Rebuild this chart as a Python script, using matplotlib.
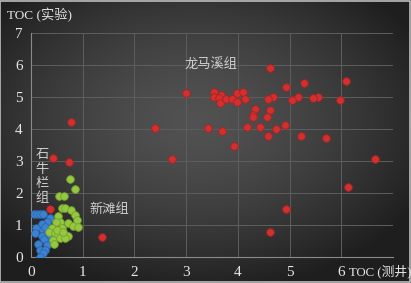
import numpy as np
import matplotlib
matplotlib.use("Agg")
import matplotlib.pyplot as plt

# ─── Datos ─────────────────────────────────────────────────────────
# 龙马溪组 (rojo)
rojo_x = [0.78, 0.42, 0.74, 0.36, 1.38, 2.39, 2.73, 3.00, 3.42, 3.69, 3.93,
          4.62, 4.94, 6.13, 6.66, 4.63, 6.10, 5.28, 4.93, 5.97, 5.55, 5.46,
          5.16, 5.05, 4.69, 4.58, 4.62, 4.34, 4.29, 4.30, 4.56, 4.17, 4.43,
          4.74, 4.91, 4.59, 5.22, 5.70, 3.54, 3.67, 3.53, 3.64, 3.65, 3.77,
          3.89, 3.98, 4.10, 3.98, 4.14]
rojo_y = [4.24, 3.10, 2.98, 1.52, 0.64, 4.05, 3.07, 5.14, 4.05, 3.93, 3.46,
          0.79, 1.51, 2.21, 3.07, 5.90, 5.52, 5.43, 5.32, 4.92, 4.99, 4.97,
          4.99, 4.91, 4.99, 4.95, 4.59, 4.64, 4.43, 4.38, 4.38, 4.07, 4.07,
          4.00, 4.13, 3.79, 3.79, 3.71, 5.17, 5.08, 4.99, 4.96, 4.81, 4.94,
          4.94, 5.14, 5.17, 4.86, 4.94]

# 新滩组 (verde)
verde_x = [0.76, 0.86, 0.55, 0.63, 0.60, 0.66, 0.78, 0.85, 0.89, 0.53, 0.56,
           0.49, 0.72, 0.81, 0.91, 0.40, 0.60, 0.34, 0.47, 0.53, 0.66, 0.72,
           0.43, 0.56, 0.66, 0.45, 0.50, 0.62]
verde_y = [2.44, 2.14, 1.92, 1.92, 1.55, 1.55, 1.48, 1.32, 1.17, 1.29, 1.11,
           1.11, 1.06, 0.98, 0.96, 0.91, 0.91, 0.80, 0.75, 0.70, 0.70, 0.65,
           0.54, 0.59, 0.59, 0.41, 0.85, 0.80]

# 石牛栏组 (azul)
azul_x = [0.05, 0.11, 0.17, 0.24, 0.36, 0.30, 0.21, 0.10, 0.24, 0.08, 0.30,
          0.21, 0.34, 0.25, 0.14, 0.30, 0.17, 0.27, 0.23, 0.17, 0.36, 0.27]
azul_y = [1.34, 1.34, 1.34, 1.34, 1.22, 1.11, 1.04, 0.91, 0.85, 0.75, 0.75,
          0.65, 0.54, 0.56, 0.42, 0.39, 0.23, 0.23, 0.13, 0.02, 0.70, 0.96]

xticks = [0, 1, 2, 3, 4, 5, 6]
yticks = [0, 1, 2, 3, 4, 5, 6, 7]

FUENTE = ["Liberation Serif", "Noto Sans CJK SC", "DejaVu Sans"]
plt.rcParams["font.family"] = FUENTE
TXT = "#e6e6e6"
ETQ = "#cfcfcf"

fig = plt.figure(figsize=(4.11, 2.83), dpi=100)

# Fondo con degradado radial
fondo = fig.add_axes([0, 0, 1, 1], zorder=0)
gx, gy = np.meshgrid(np.linspace(-1, 1, 411), np.linspace(-1, 1, 283))
r = np.sqrt(((gx + 0.05) / 1.1) ** 2 + ((gy + 0.15) / 1.1) ** 2)
g = np.clip(0.32 - 0.17 * r ** 1.5, 0.12, 1)
img = np.dstack([g, g, g])
fondo.imshow(img, aspect="auto", extent=[0, 1, 0, 1], origin="upper")
fondo.set_axis_off()
# borde claro alrededor
fondo.add_patch(plt.Rectangle((0.001, 0.002), 0.997, 0.995, fill=False,
                              edgecolor="#bdbdbd", linewidth=1.2,
                              transform=fondo.transAxes))

ax = fig.add_axes([0.0754, 0.0908, 0.8806, 0.7922], zorder=1)
ax.set_facecolor("none")

kw = dict(s=30, linewidths=0.6, zorder=3)
ax.scatter(azul_x, azul_y, color="#3b82d2", edgecolor="#2d66a8", **kw)
ax.scatter(verde_x, verde_y, color="#94c83f", edgecolor="#76a230", **kw)
ax.scatter(rojo_x, rojo_y, color="#d2302f", edgecolor="#a52424", **kw)

ax.set_xlim(0, 7)
ax.set_ylim(0, 7)
ax.set_xticks(range(0, 8))
ax.set_xticklabels([str(t) for t in xticks] + [""])
ax.set_yticks(yticks)
ax.grid(True, color="#5e5e5e", linewidth=0.7, zorder=0)
ax.set_axisbelow(True)
ax.tick_params(length=0, colors=TXT, labelsize=11, pad=6)
for lado in ["top", "right"]:
    ax.spines[lado].set_visible(False)
for lado in ["left", "bottom"]:
    ax.spines[lado].set_color("#8a8a8a")
    ax.spines[lado].set_linewidth(0.8)

# Etiquetas de ejes
fig.text(0.017, 0.945, "TOC (实验)", color=TXT, fontsize=9.5, va="center",
         ha="left")
fig.text(0.850, 0.042, "TOC (测井)", color=TXT, fontsize=9.2, va="center",
         ha="left")

# Etiquetas de grupos
ax.text(3.48, 6.0, "龙马溪组", color=ETQ, fontsize=9.5, ha="center",
        va="center")
ax.text(1.51, 1.5, "新滩组", color=ETQ, fontsize=9.5, ha="center",
        va="center")
ax.text(0.21, 2.5, "石\n牛\n栏\n组", color=ETQ, fontsize=9.5, ha="center",
        va="center", linespacing=1.25)

fig.savefig("out.png", dpi=100)
